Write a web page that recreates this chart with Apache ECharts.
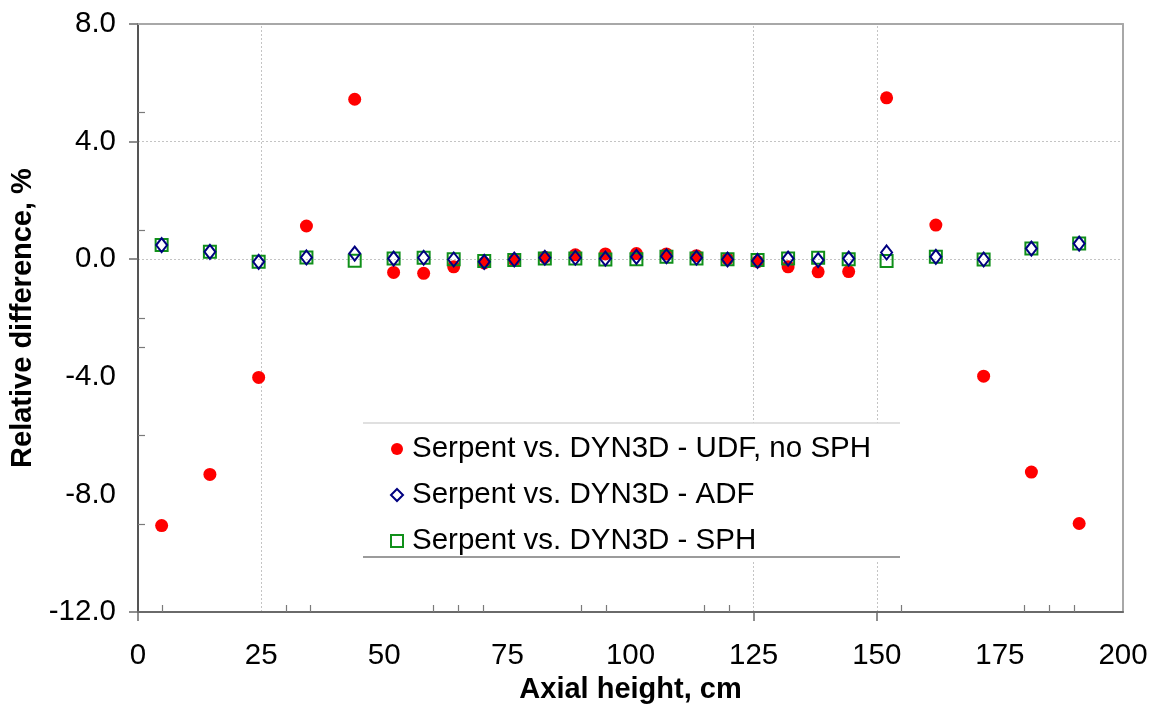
<!DOCTYPE html>
<html>
<head>
<meta charset="utf-8">
<script src="https://cdn.jsdelivr.net/npm/echarts@6/dist/echarts.min.js"></script>
<style>
  html, body { margin: 0; padding: 0; background: #ffffff; }
  #chart { width: 1157px; height: 713px; }
</style>
</head>
<body>
<div id="chart"></div>
<script>
// Axial positions of the nodes, cm
const axialHeight = [4.8, 14.6, 24.5, 34.2, 44.0, 51.9, 58.0, 64.1, 70.3, 76.4, 82.6, 88.8, 94.9,
  101.2, 107.3, 113.4, 119.7, 125.8, 132.0, 138.1, 144.3, 152.0, 162.0, 171.7, 181.4, 191.1];

// Relative power difference, %
const udfNoSph = [-9.06, -7.32, -4.02, 1.13, 5.44, -0.45, -0.48, -0.26, -0.13, -0.03, 0.07, 0.15, 0.18,
  0.19, 0.18, 0.12, 0.01, -0.08, -0.26, -0.43, -0.42, 5.49, 1.16, -3.98, -7.24, -8.99];
const adf = [0.48, 0.25, -0.09, 0.06, 0.19, 0.02, 0.05, -0.01, -0.09, -0.01, 0.05, 0.05, 0.02,
  0.08, 0.10, 0.05, -0.01, -0.06, 0.02, -0.03, 0.02, 0.23, 0.08, -0.01, 0.36, 0.53];
const sph = [0.48, 0.25, -0.09, 0.06, -0.05, 0.02, 0.05, 0.00, -0.06, -0.03, 0.02, 0.02, -0.01,
  0.00, 0.08, 0.02, 0.00, -0.03, 0.02, 0.05, 0.00, -0.06, 0.08, -0.01, 0.36, 0.53];

const seriesNames = [
  'Serpent vs. DYN3D - UDF, no SPH',
  'Serpent vs. DYN3D - ADF',
  'Serpent vs. DYN3D - SPH'
];

// Tick positions
const xTicksOuter = [0, 125, 150];
const xTicksInner = [5, 30, 35, 60, 65, 70, 90, 95, 115, 120, 155, 180, 185, 190];
const yTicksOuter = [8, 4, 0, -12];
const yTicksInner = [5, 1, -2, -3, -6, -9];
const xGridAt = [25, 125, 150];
const yGridAt = [4, 0];

const FONT = "'Liberation Sans', Arial, sans-serif";
const pairs = ys => axialHeight.map((x, i) => [x, ys[i]]);

const chart = echarts.init(document.getElementById('chart'), null, { renderer: 'canvas' });

const gridLineStyle = { color: '#c4c4c4', type: [2, 2], width: 1 };

chart.setOption({
  animation: false,
  backgroundColor: '#ffffff',
  textStyle: { fontFamily: FONT },
  grid: { left: 138, right: 34, top: 24, bottom: 101, containLabel: false },
  xAxis: [
    {
      type: 'value', min: 0, max: 200, interval: 25, position: 'bottom',
      name: 'Axial height, cm', nameLocation: 'middle', nameGap: 63,
      nameTextStyle: { fontFamily: FONT, fontSize: 29, fontWeight: 'bold', color: '#000' },
      axisLine: { show: true, onZero: false, lineStyle: { color: '#6a6a6a', width: 2 } },
      axisTick: { show: true, inside: false, length: 9, customValues: xTicksOuter,
        lineStyle: { color: '#6a6a6a', width: 1.5 } },
      axisLabel: { fontFamily: FONT, fontSize: 29.5, color: '#000', margin: 29 },
      splitLine: { show: false }
    },
    {
      type: 'value', min: 0, max: 200, position: 'bottom',
      axisLine: { show: false, onZero: false },
      axisTick: { show: true, inside: true, length: 7, customValues: xTicksInner,
        lineStyle: { color: '#7a7a7a', width: 1.2 } },
      axisLabel: { show: false },
      splitLine: { show: false }
    },
    {
      type: 'value', min: 0, max: 200, position: 'top',
      axisLine: { show: true, onZero: false, lineStyle: { color: '#a8a8a8', width: 2 } },
      axisTick: { show: false }, axisLabel: { show: false }, splitLine: { show: false }
    }
  ],
  yAxis: [
    {
      type: 'value', min: -12, max: 8, interval: 4, position: 'left',
      name: 'Relative difference, %', nameLocation: 'middle', nameGap: 95,
      nameTextStyle: { fontFamily: FONT, fontSize: 29, fontWeight: 'bold', color: '#000' },
      axisLine: { show: true, onZero: false, lineStyle: { color: '#555555', width: 2 } },
      axisTick: { show: true, inside: false, length: 9, customValues: yTicksOuter,
        lineStyle: { color: '#6a6a6a', width: 1.5 } },
      axisLabel: { fontFamily: FONT, fontSize: 29.5, color: '#000', margin: 22,
        formatter: v => v.toFixed(1) },
      splitLine: { show: false }
    },
    {
      type: 'value', min: -12, max: 8, position: 'left',
      axisLine: { show: false, onZero: false },
      axisTick: { show: true, inside: true, length: 7, customValues: yTicksInner,
        lineStyle: { color: '#7a7a7a', width: 1.2 } },
      axisLabel: { show: false },
      splitLine: { show: false }
    },
    {
      type: 'value', min: -12, max: 8, position: 'right',
      axisLine: { show: true, onZero: false, lineStyle: { color: '#a8a8a8', width: 2 } },
      axisTick: { show: false }, axisLabel: { show: false }, splitLine: { show: false }
    }
  ],
  legend: {
    orient: 'vertical',
    left: 363, top: 423,
    padding: [11, 30, 6, 27],
    backgroundColor: '#ffffff',
    z: 10,
    itemWidth: 12, itemHeight: 12, itemGap: 16,
    textStyle: { fontFamily: FONT, fontSize: 29.5, color: '#000', lineHeight: 29, padding: [0, 0, 0, 4] },
    data: [
      { name: seriesNames[0], icon: 'circle' },
      { name: seriesNames[1], icon: 'diamond' },
      { name: seriesNames[2], icon: 'rect' }
    ]
  },
  graphic: [
    { type: 'line', z: 100, shape: { x1: 363, y1: 423, x2: 900, y2: 423 },
      style: { stroke: '#d6d6d6', lineWidth: 1.5 } },
    { type: 'line', z: 100, shape: { x1: 363, y1: 557, x2: 900, y2: 557 },
      style: { stroke: '#7a7a7a', lineWidth: 1.5 } }
  ],
  series: [
    {
      // reference grid lines, drawn beneath the markers
      type: 'scatter', name: '_grid', data: [], z: 0, silent: true,
      markLine: {
        z: 0, silent: true, symbol: 'none', label: { show: false },
        lineStyle: gridLineStyle,
        data: xGridAt.map(v => ({ xAxis: v })).concat(yGridAt.map(v => ({ yAxis: v })))
      }
    },
    {
      type: 'scatter', name: seriesNames[0], data: pairs(udfNoSph), z: 1,
      symbol: 'circle', symbolSize: 13,
      itemStyle: { color: '#ff0000', opacity: 1 }
    },
    {
      type: 'scatter', name: seriesNames[2], data: pairs(sph), z: 2,
      symbol: 'rect', symbolSize: 12,
      itemStyle: { color: 'rgba(255,255,255,0)', borderColor: '#10901a', borderWidth: 2, opacity: 1 }
    },
    {
      type: 'scatter', name: seriesNames[1], data: pairs(adf), z: 3,
      symbol: 'diamond', symbolSize: [11, 14],
      itemStyle: { color: 'rgba(255,255,255,0)', borderColor: '#000080', borderWidth: 2, opacity: 1 }
    }
  ]
});
</script>
</body>
</html>
